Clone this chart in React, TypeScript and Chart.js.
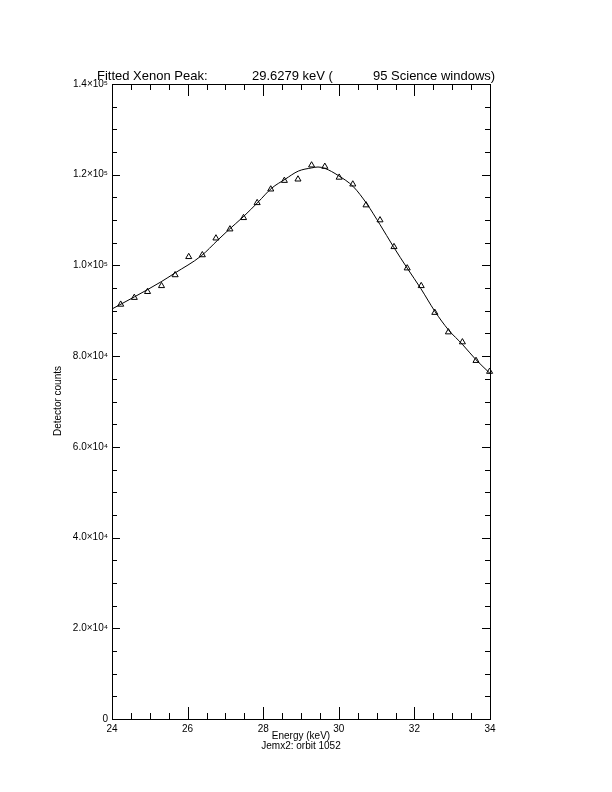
import React, { useEffect, useRef } from "react";
import { Chart, registerables } from "chart.js";

Chart.register(...registerables);

// Measured channels (triangles)
const pointEnergy = [
  24.23, 24.59, 24.94, 25.31, 25.67, 26.03, 26.39, 26.75, 27.12, 27.48,
  27.84, 28.2, 28.56, 28.92, 29.28, 29.63, 30.01, 30.37, 30.72, 31.09,
  31.46, 31.81, 32.18, 32.54, 32.9, 33.27, 33.63, 33.99,
];
const pointCounts = [
  91400, 92900, 94200, 95500, 97900, 101900, 102300, 106000, 108000, 110500,
  113800, 116800, 118700, 119000, 122100, 121800, 119400, 117900, 113300, 110000,
  104100, 99400, 95500, 89600, 85300, 83100, 79000, 76600,
];

// Fitted curve
const fitEnergy = [
  24.0, 24.6, 25.3, 25.66, 26.36, 26.8, 27.08, 27.47, 27.87, 28.22, 28.58,
  28.93, 29.28, 29.45, 29.63, 29.99, 30.38, 30.74, 31.09, 31.44, 31.81, 32.17,
  32.54, 32.9, 33.27, 33.63, 34.0,
];
const fitCounts = [
  90400, 93100, 96400, 98300, 102100, 105600, 107800, 110700, 114000, 117000,
  119000, 120800, 121500, 121700, 121400, 119800, 117400, 113600, 109000, 104200,
  99400, 94900, 89900, 85800, 82600, 79200, 76200,
];

const xTickLabels = ["24", "26", "28", "30", "32", "34"];
const yTickLabels = [
  "0", "2.0×10⁴", "4.0×10⁴", "6.0×10⁴", "8.0×10⁴", "1.0×10⁵", "1.2×10⁵", "1.4×10⁵",
];

const titleParts = ["Fitted Xenon Peak:", "29.6279 keV (", "95 Science windows)"];
const xTitle = "Energy (keV)";
const xSubTitle = "Jemx2: orbit 1052";
const yTitle = "Detector counts";

const FONT = "'Liberation Sans', Arial, sans-serif";

const idlAxes = {
  id: "idlAxes",
  afterDraw(chart: any) {
    const { ctx, chartArea } = chart;
    const xs = chart.scales.x;
    const ys = chart.scales.y;
    const { left, right, top, bottom } = chartArea;
    ctx.save();
    ctx.strokeStyle = "#000";
    ctx.lineWidth = 1;
    ctx.strokeRect(Math.round(left) + 0.5, Math.round(top) + 0.5, Math.round(right - left), Math.round(bottom - top));
    ctx.beginPath();
    // x ticks
    for (let v = 24; v <= 34.001; v += 0.5) {
      const major = Math.abs(v / 2 - Math.round(v / 2)) < 1e-6;
      const len = major ? 12 : 6;
      const px = Math.round(xs.getPixelForValue(v)) + 0.5;
      ctx.moveTo(px, bottom);
      ctx.lineTo(px, bottom - len);
      ctx.moveTo(px, top);
      ctx.lineTo(px, top + len);
    }
    // y ticks
    for (let v = 0; v <= 140000; v += 5000) {
      const major = v % 20000 === 0;
      const len = major ? 8 : 5;
      const py = Math.round(ys.getPixelForValue(v)) + 0.5;
      ctx.moveTo(left, py);
      ctx.lineTo(left + len, py);
      ctx.moveTo(right, py);
      ctx.lineTo(right - len, py);
    }
    ctx.stroke();

    ctx.fillStyle = "#000";
    ctx.font = `13px ${FONT}`;
    ctx.textBaseline = "alphabetic";
    ctx.textAlign = "left";
    ctx.fillText(titleParts[0], 97, 80);
    ctx.fillText(titleParts[1], 252, 80);
    ctx.fillText(titleParts[2], 373, 80);

    ctx.font = `10px ${FONT}`;
    ctx.textAlign = "center";
    const cx = (left + right) / 2;
    ctx.fillText(xTitle, cx, 739);
    ctx.fillText(xSubTitle, cx, 749);

    ctx.translate(61, 401);
    ctx.rotate(-Math.PI / 2);
    ctx.fillText(yTitle, 0, 0);
    ctx.restore();
  },
};

export default function App() {
  const ref = useRef<HTMLCanvasElement | null>(null);
  useEffect(() => {
    document.body.style.margin = "0";
    const canvas = ref.current;
    if (!canvas) return;
    const chart = new Chart(canvas, {
      type: "scatter",
      data: {
        datasets: [
          {
            label: "fit",
            data: fitEnergy.map((x, i) => ({ x, y: fitCounts[i] })),
            showLine: true,
            borderColor: "#000",
            borderWidth: 1,
            pointRadius: 0,
            cubicInterpolationMode: "monotone",
            fill: false,
          },
          {
            label: "data",
            data: pointEnergy.map((x, i) => ({ x, y: pointCounts[i] })),
            showLine: false,
            pointStyle: "triangle",
            pointRadius: 3.5,
            pointBackgroundColor: "rgba(0,0,0,0)",
            pointBorderColor: "#000",
            pointBorderWidth: 1,
            clip: false,
          },
        ],
      } as any,
      options: {
        animation: false,
        responsive: false,
        devicePixelRatio: 1,
        layout: { padding: { left: 0, top: 84, right: 122, bottom: 0 } },
        plugins: { legend: { display: false }, tooltip: { enabled: false }, title: { display: false } },
        scales: {
          x: {
            type: "linear",
            min: 24,
            max: 34,
            grid: { display: false, drawTicks: false },
            border: { display: false },
            ticks: {
              stepSize: 2,
              padding: 4,
              color: "#000",
              font: { family: FONT, size: 10 },
              maxRotation: 0,
              callback: (_v: any, i: number) => xTickLabels[i],
            },
            afterFit: (s: any) => {
              s.height = 73;
            },
          },
          y: {
            type: "linear",
            min: 0,
            max: 140000,
            grid: { display: false, drawTicks: false },
            border: { display: false },
            ticks: {
              stepSize: 20000,
              padding: 4,
              color: "#000",
              font: { family: FONT, size: 10 },
              callback: (_v: any, i: number) => yTickLabels[i],
            },
            afterFit: (s: any) => {
              s.width = 112;
            },
          },
        },
      } as any,
      plugins: [idlAxes],
    });
    return () => chart.destroy();
  }, []);
  return (
    <div style={{ position: "absolute", left: 0, top: 0, width: 612, height: 792, background: "#fff" }}>
      <canvas ref={ref} width={612} height={792} />
    </div>
  );
}
